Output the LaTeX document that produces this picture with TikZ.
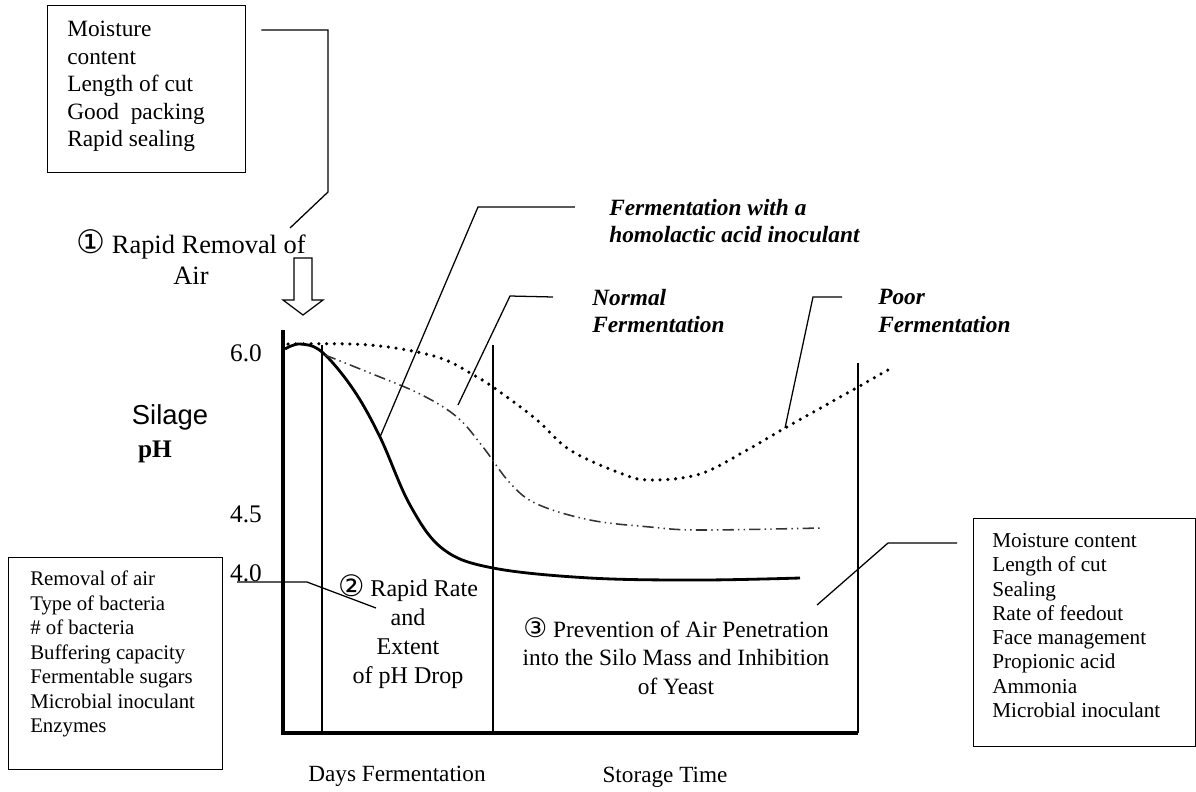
\documentclass[tikz,border=0pt]{standalone}
\usepackage{fontspec}
\setmainfont{Liberation Serif}
\newfontfamily\circfont{DejaVu Sans}
\newfontfamily\arialfont{Liberation Sans}
\usetikzlibrary{positioning}

\begin{document}
\begin{tikzpicture}
        [
        x = 0.025cm, y = -0.025cm,
        factor_box/.style = {
            draw, line width = 0.9pt,
            anchor = north west, inner sep = 0pt,
        },
        factor_text/.style = {
            align = left, anchor = north west, inner sep = 0pt,
        },
        curve_label/.style = {
            align = left, anchor = west, inner sep = 0pt,
            font = \fontsize{16.6}{19.8}\selectfont\bfseries\itshape,
        },
        phase/.style = {align = center, inner sep = 0pt},
        leader/.style = {line width = 0.9pt},
        axis/.style = {line width = 3.2pt, line join = miter},
        ]

        \useasboundingbox (0,0) rectangle (1196,791);

        % Kaders met factoren
        \node[factor_box, minimum width = 4.95cm, minimum height = 4.175cm] (box_air) at (47,5) {};
        \node[factor_text, font = \fontsize{16.6}{19.6}\selectfont] (txt_air) at (67,21)
            {Moisture\\content\\Length of cut\\Good\ \ packing\\Rapid sealing};
        \node[factor_box, minimum width = 5.35cm, minimum height = 5.3cm] (box_drop) at (8,557) {};
        \node[factor_text, font = \fontsize{14.8}{17.4}\selectfont] (txt_drop) at (30,571)
            {Removal of air\\Type of bacteria\\\# of bacteria\\Buffering capacity\\Fermentable sugars\\Microbial inoculant\\Enzymes};
        \node[factor_box, minimum width = 5.55cm, minimum height = 5.7cm] (box_storage) at (973,518) {};
        \node[factor_text, font = \fontsize{15.1}{17.3}\selectfont] (txt_storage) at (992,533)
            {Moisture content\\Length of cut\\Sealing\\Rate of feedout\\Face management\\Propionic acid\\Ammonia\\Microbial inoculant};

        % Fasen
        \node[phase, font = \fontsize{18.8}{22}\selectfont] (phase_air) at (191,257)
            {{\circfont\fontsize{23}{22}\selectfont ①} Rapid Removal of\\Air};
        \node[phase, font = \fontsize{17.1}{20.6}\selectfont] (phase_drop) at (408,632)
            {{\circfont\fontsize{21}{20}\selectfont ②} Rapid Rate\\and\\Extent\\of pH Drop};
        \node[phase, font = \fontsize{16.6}{20.3}\selectfont] (phase_storage) at (676,656)
            {{\circfont\fontsize{19}{20}\selectfont ③} Prevention of Air Penetration\\into the Silo Mass and Inhibition\\of Yeast};

        % Labels van de curven
        \node[curve_label] (lbl_homolactic) at (609,221) {Fermentation with a\\homolactic acid inoculant};
        \node[curve_label] (lbl_normal) at (592,311) {Normal\\Fermentation};
        \node[curve_label] (lbl_poor) at (878,311) {Poor\\Fermentation};

        % Assen
        \node[font = \arialfont\fontsize{19.5}{22}\selectfont] (lbl_silage) at (170,417) {Silage};
        \node[font = \fontsize{18}{20}\selectfont\bfseries] (lbl_ph) at (155,452) {pH};
        \node[font = \fontsize{18}{20}\selectfont] (tick_60) at (246,353) {6.0};
        \node[font = \fontsize{18}{20}\selectfont] (tick_45) at (246,514) {4.5};
        \node[font = \fontsize{18}{20}\selectfont] (tick_40) at (246,573) {4.0};
        \node[font = \fontsize{16.5}{20}\selectfont] (lbl_days) at (397,776) {Days Fermentation};
        \node[font = \fontsize{16.5}{20}\selectfont] (lbl_storage) at (665,777) {Storage Time};

        \draw[axis] (283,330) -- (283,733) -- (858,733);
        \draw[line width = 1pt] (322,345) -- (322,733);
        \draw[line width = 2pt] (493,345) -- (493,733);
        \draw[line width = 1pt] (858,363) -- (858,733);

        % Holle pijl
        \draw[line width = 0.9pt, line join = miter]
            (294,258) -- (312,258) -- (312,300) -- (323,300) -- (303,315) -- (283,300) -- (294,300) -- cycle;

        % Curven
        \draw[line width = 2pt] plot[smooth, tension = 0.6] coordinates {
            (285,349) (300,344) (322,352) (353,389) (380,437) (410,505) (443,549)
            (493,568) (590,578) (700,580) (800,578)};
        \draw[line width = 1.1pt, black!80,
            dash pattern = on 8pt off 3pt on 1pt off 3pt on 1pt off 3pt]
            plot[smooth, tension = 0.6] coordinates {
            (325,355) (370,373) (420,394) (457,417) (483,447) (510,483) (537,504)
            (590,520) (650,527) (700,530) (820,528)};
        \draw[line width = 2.5pt, line cap = round, dash pattern = on 0pt off 5.5pt]
            plot[smooth, tension = 0.6] coordinates {
            (288,344) (370,345) (437,357) (477,377) (500,392) (537,420) (570,450)
            (620,473) (650,480) (700,474) (747,450) (785,428) (858,387) (893,367)};

        % Verbindingslijnen
        \coordinate (pt_air) at (290,228);
        \coordinate (pt_homolactic) at (380,437);
        \coordinate (pt_normal) at (458,405);
        \coordinate (pt_poor) at (785,428);
        \coordinate (pt_drop) at (376,608);
        \coordinate (pt_storage) at (817,605);
        \coordinate (pt_40) at (237,582);

        \draw[leader] ([xshift = 0.375cm, yshift = -0.625cm]box_air.north east) -| (328,192) -- (pt_air);
        \draw[leader] ([xshift = -0.85cm, yshift = 0.35cm]lbl_homolactic.west) -- (478,207) -- (pt_homolactic);
        \draw[leader] ([xshift = -0.975cm, yshift = 0.35cm]lbl_normal.west) -- (510,296) -- (pt_normal);
        \draw[leader] ([xshift = -0.9cm, yshift = 0.35cm]lbl_poor.west) -- (813,297) -- (pt_poor);
        \draw[leader] (pt_40) -- (307,582) -- (pt_drop);
        \draw[leader] ([xshift = -0.4cm, yshift = -0.625cm]box_storage.north west) -- (888,543) -- (pt_storage);
\end{tikzpicture}
\end{document}
